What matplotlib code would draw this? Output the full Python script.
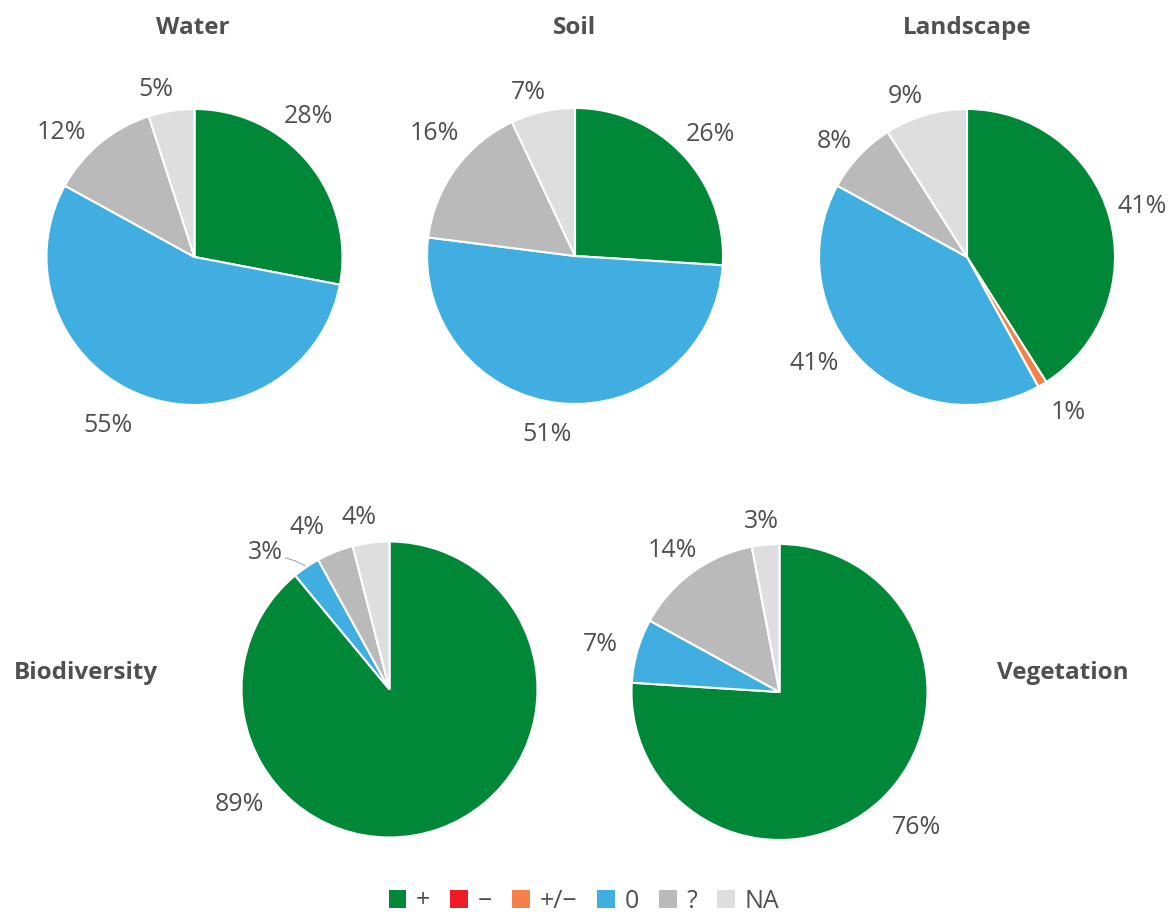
import numpy as np
import matplotlib
matplotlib.use("Agg")
import matplotlib.pyplot as plt
from matplotlib.patches import Patch

plt.rcParams['font.family'] = ['Open Sans', 'DejaVu Sans']

categories = ['+', '\u2212', '+/\u2212', '0', '?', 'NA']
colors = ['#008738', '#ee1c24', '#f4804a', '#41aee2', '#bababa', '#dedede']
text_color = '#505050'

water = [28, 0, 0, 55, 12, 5]
soil = [26, 0, 0, 51, 16, 7]
landscape = [41, 0, 1, 41, 8, 9]
biodiversity = [89, 0, 0, 3, 4, 4]
vegetation = [76, 0, 0, 7, 14, 3]

# label placement (angle in degrees, distance in pie radii) for each non-zero slice
water_lbl = [(51, 1.22), (243, 1.28), (137, 1.23), (103, 1.16)]
soil_lbl = [(42, 1.23), (261, 1.22), (139, 1.26), (106, 1.15)]
landscape_lbl = [(16, 1.23), (-57, 1.25), (215, 1.26), (139, 1.19), (111, 1.16)]
biodiversity_lbl = [(217.5, 1.28), (132, 1.25), (117, 1.23), (100, 1.18)]
vegetation_lbl = [(-44.6, 1.30), (165, 1.25), (127, 1.20), (96, 1.16)]

panels = [
    ('Water', water, water_lbl, (194.5, 257), (193, 28)),
    ('Soil', soil, soil_lbl, (575, 256), (575, 28)),
    ('Landscape', landscape, landscape_lbl, (967, 257), (967, 28)),
    ('Biodiversity', biodiversity, biodiversity_lbl, (389.5, 689.5), (86, 673)),
    ('Vegetation', vegetation, vegetation_lbl, (779.5, 692), (1063, 673)),
]

W, H = 1175, 918
fig = plt.figure(figsize=(W / 100, H / 100), dpi=100)
R = 148

for name, vals, lbls, (cx, cy), (tx, ty) in panels:
    ax = fig.add_axes([(cx - R) / W, 1 - (cy + R) / H, 2 * R / W, 2 * R / H])
    idx = [i for i, v in enumerate(vals) if v > 0]
    v = [vals[i] for i in idx]
    c = [colors[i] for i in idx]
    ax.pie(v, colors=c, startangle=90, counterclock=False, radius=1,
           wedgeprops=dict(edgecolor='white', linewidth=1.5))
    ax.set_xlim(-1, 1)
    ax.set_ylim(-1, 1)
    ax.set_aspect('equal')
    ax.axis('off')
    total = sum(v)
    start = 90.0
    for k, i in enumerate(idx):
        span = 360.0 * vals[i] / total
        mid = start - span / 2
        start -= span
        ang, dist = lbls[k]
        x, y = dist * np.cos(np.radians(ang)), dist * np.sin(np.radians(ang))
        ax.text(x, y, f'{vals[i]}%', ha='center', va='center', fontsize=18,
                color=text_color, clip_on=False)
        if name == 'Biodiversity' and i == 3:
            ex, ey = np.cos(np.radians(mid)), np.sin(np.radians(mid))
            ax.plot([x + 0.135, x + 0.2, ex - 0.01], [y - 0.04, y - 0.06, ey + 0.01],
                    color='#a6a6a6', lw=0.8, clip_on=False)
    fig.text(tx / W, 1 - ty / H, name, ha='center', va='center',
             fontsize=17.5, fontweight='bold', color=text_color)

handles = [Patch(facecolor=col, edgecolor='none') for col in colors]
fig.legend(handles, categories, loc='center', bbox_to_anchor=(584 / W, 1 - 901 / H),
           ncol=6, frameon=False, fontsize=18, handlelength=0.7, handleheight=0.7,
           handletextpad=0.4, columnspacing=0.8, labelcolor=text_color,
           borderpad=0, borderaxespad=0)

fig.savefig('out.png', dpi=100, facecolor='white')
